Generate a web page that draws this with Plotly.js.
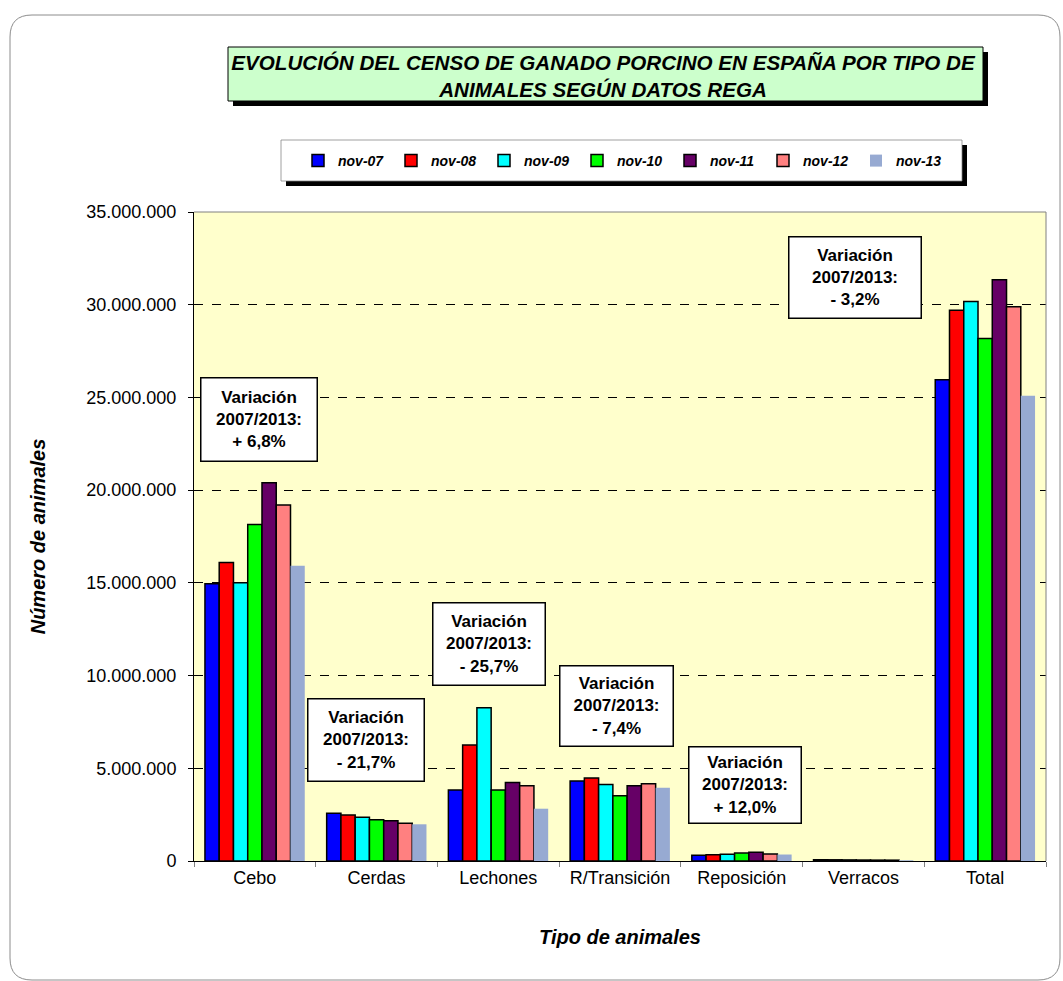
<!DOCTYPE html>
<html><head><meta charset="utf-8">
<script src="https://cdn.plot.ly/plotly-3.0.1.min.js"></script>
<style>html,body{margin:0;padding:0;background:#fff}</style>
</head><body><div id="chart" style="width:1063px;height:981px"></div>
<script>
// ---- data ----
const categories = ['Cebo','Cerdas','Lechones','R/Transición','Reposición','Verracos','Total'];
const seriesNames = ['nov-07','nov-08','nov-09','nov-10','nov-11','nov-12','nov-13'];
const nov07 = [14950000, 2570000, 3830000, 4310000, 310000, 69000, 25960000];
const nov08 = [16100000, 2480000, 6260000, 4480000, 340000, 64000, 29700000];
const nov09 = [15000000, 2360000, 8270000, 4130000, 360000, 58000, 30180000];
const nov10 = [18150000, 2230000, 3830000, 3520000, 430000, 52000, 28180000];
const nov11 = [20400000, 2170000, 4240000, 4060000, 470000, 47000, 31350000];
const nov12 = [19200000, 2030000, 4060000, 4170000, 380000, 45000, 29890000];
const nov13 = [15920000, 1980000, 2820000, 3950000, 350000, 40000, 25090000];
const variationLabels = ['+ 6,8%','- 21,7%','- 25,7%','- 7,4%','+ 12,0%','- 3,2%'];
const titleText = 'EVOLUCIÓN DEL CENSO DE GANADO PORCINO EN ESPAÑA POR TIPO DE<br>ANIMALES SEGÚN DATOS REGA';
const yTitle = 'Número de animales';
const xTitle = 'Tipo de animales';

// ---- styling ----
const seriesValues = [nov07, nov08, nov09, nov10, nov11, nov12, nov13];
const colors = ['#0000FF','#FF0000','#00FFFF','#00FF00','#660066','#FF8080','#97AAD2'];
const FONT = '"Liberation Sans", Arial, sans-serif';
const W = 1063, H = 981, L = 194, R = 17, T = 212, B = 120;
const PW = W - L - R, PH = H - T - B;
const px = x => (x - L) / PW;
const py = y => (H - B - y) / PH;

const traces = seriesNames.map((name, i) => ({
  type: 'bar', name: name, x: categories, y: seriesValues[i],
  marker: { color: colors[i], line: { color: '#000', width: i === 6 ? 0 : 1.5 } },
  hoverinfo: 'none'
}));

// rounded outer border
function roundRect(x0, y0, x1, y1, r) {
  const rx = r / PW, ry = r / PH;
  const X0 = px(x0), X1 = px(x1), Y0 = py(y0), Y1 = py(y1);
  return `M ${X0 + rx},${Y0} L ${X1 - rx},${Y0} Q ${X1},${Y0} ${X1},${Y0 - ry} ` +
    `L ${X1},${Y1 + ry} Q ${X1},${Y1} ${X1 - rx},${Y1} L ${X0 + rx},${Y1} ` +
    `Q ${X0},${Y1} ${X0},${Y1 + ry} L ${X0},${Y0 - ry} Q ${X0},${Y0} ${X0 + rx},${Y0} Z`;
}

const shapes = [
  { type: 'path', xref: 'paper', yref: 'paper', path: roundRect(10, 15, 1060, 980, 22),
    line: { color: '#8c8c8c', width: 1 }, layer: 'below' },
  // title box + shadow
  { type: 'rect', xref: 'paper', yref: 'paper', x0: px(233), x1: px(988), y0: py(52), y1: py(106),
    fillcolor: '#000', line: { width: 0 }, layer: 'below' },
  { type: 'rect', xref: 'paper', yref: 'paper', x0: px(228), x1: px(983), y0: py(47), y1: py(101),
    fillcolor: '#CCFFCC', line: { color: '#000', width: 1 }, layer: 'below' },
  // legend box + shadow
  { type: 'rect', xref: 'paper', yref: 'paper', x0: px(286), x1: px(967), y0: py(145), y1: py(186),
    fillcolor: '#000', line: { width: 0 }, layer: 'below' },
  { type: 'rect', xref: 'paper', yref: 'paper', x0: px(281), x1: px(962), y0: py(140), y1: py(181),
    fillcolor: '#fff', line: { color: '#808080', width: 0.75 }, layer: 'below' },
  // plot area top/right border
  { type: 'line', xref: 'paper', yref: 'paper', x0: 0, x1: 1, y0: 1, y1: 1,
    line: { color: '#808080', width: 1 }, layer: 'above' },
  { type: 'line', xref: 'paper', yref: 'paper', x0: 1, x1: 1, y0: 0, y1: 1,
    line: { color: '#808080', width: 1 }, layer: 'above' }
];

// annotation boxes: [centerX, centerY, width, height] in px
const boxes = [
  [259, 419.5, 118, 85],
  [366, 740, 118, 84],
  [489, 644, 114, 84],
  [616.5, 706, 115, 82],
  [745, 785, 114, 78],
  [855, 277.5, 134, 83]
];
const annotations = boxes.map((b, i) => ({
  xref: 'paper', yref: 'paper', x: px(b[0]), y: py(b[1]), xanchor: 'center', yanchor: 'middle',
  text: 'Variación<br>2007/2013:<br>' + variationLabels[i], showarrow: false,
  font: { family: FONT, size: 17, color: '#000', weight: 'bold' },
  bgcolor: '#fff', bordercolor: '#000', borderwidth: 1.5, borderpad: 0,
  width: b[2] - 3, height: b[3] - 3, align: 'center', valign: 'middle'
}));

const layout = {
  width: W, height: H,
  margin: { l: L, r: R, t: T, b: B, pad: 0 },
  paper_bgcolor: '#fff', plot_bgcolor: '#FFFFCC',
  separators: ',.',
  font: { family: FONT, color: '#000' },
  barmode: 'group', bargap: 0.18, bargroupgap: 0,
  title: {
    text: titleText, xref: 'paper', yref: 'container',
    x: px(603), y: 1 - 70 / H, xanchor: 'center', yanchor: 'middle',
    font: { family: FONT, size: 20.6, color: '#000', weight: 'bold', style: 'italic' }
  },
  showlegend: true,
  legend: {
    orientation: 'h', x: px(298), y: py(161), xanchor: 'left', yanchor: 'middle',
    xref: 'paper', yref: 'paper', bgcolor: 'rgba(0,0,0,0)', borderwidth: 0,
    font: { family: FONT, size: 14, color: '#000', weight: 'bold', style: 'italic' },
    itemwidth: 30, entrywidth: 48, entrywidthmode: 'pixels', traceorder: 'normal'
  },
  xaxis: {
    type: 'category', tickson: 'boundaries', ticks: 'outside', ticklen: 5, tickcolor: '#808080',
    showline: true, linecolor: '#000', linewidth: 1, showgrid: false, zeroline: false,
    tickfont: { family: FONT, size: 18, color: '#000' },
    title: { text: xTitle, standoff: 43, font: { family: FONT, size: 20, color: '#000', weight: 'bold', style: 'italic' } },
    fixedrange: true
  },
  yaxis: {
    range: [0, 35000000], dtick: 5000000, tick0: 0, tickformat: ',.0f',
    ticks: 'outside', ticklen: 5, tickcolor: '#000', ticklabelstandoff: 8,
    showline: true, linecolor: '#000', linewidth: 1,
    showgrid: true, gridcolor: '#000', gridwidth: 1, griddash: 'dash', zeroline: false,
    tickfont: { family: FONT, size: 18, color: '#000' },
    title: { text: yTitle, standoff: 35, font: { family: FONT, size: 20, color: '#000', weight: 'bold', style: 'italic' } },
    fixedrange: true
  },
  shapes: shapes,
  annotations: annotations
};

Plotly.newPlot('chart', traces, layout, { staticPlot: true, displayModeBar: false });
</script>
</body></html>
